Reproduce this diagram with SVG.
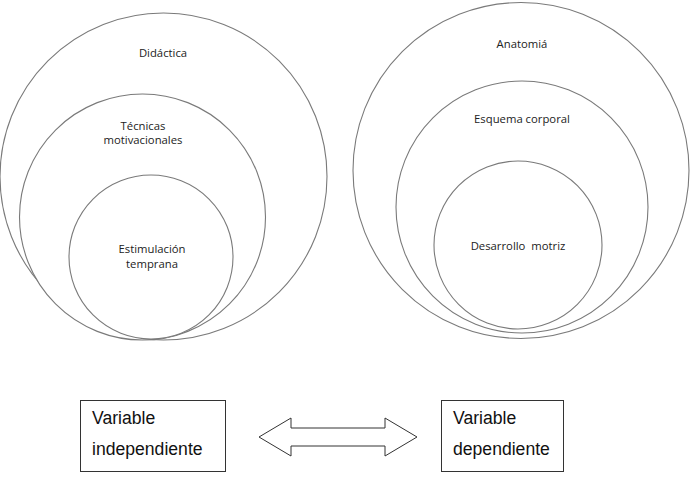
<svg xmlns="http://www.w3.org/2000/svg" width="692" height="490" viewBox="0 0 692 490">
<style>
.c{fill:#fff;stroke:#7a7a7a;stroke-width:1.1}
.t{font-family:"Open Sans","Liberation Sans",sans-serif;font-size:11.3px;fill:#222;text-anchor:middle}
.b{fill:#fff;stroke:#333;stroke-width:1}
.v{font-family:"Liberation Sans",Arial,sans-serif;font-size:17.6px;fill:#111}
</style>
<rect width="692" height="490" fill="#fff"/>
<g id="didactica"><circle class="c" cx="163.5" cy="176.5" r="163.5"/><text class="t" x="163" y="57">Didáctica</text></g>
<g id="tecnicas"><circle class="c" cx="142.5" cy="217" r="123"/><text class="t" x="143" y="130">Técnicas</text><text class="t" x="143" y="144">motivacionales</text></g>
<g id="estimulacion"><circle class="c" cx="151" cy="257" r="82"/><text class="t" x="152" y="253">Estimulación</text><text class="t" x="152" y="268">temprana</text></g>
<g id="anatomia"><circle class="c" cx="521" cy="170.5" r="168"/><text class="t" x="522" y="48">Anatomiá</text></g>
<g id="esquema"><circle class="c" cx="522" cy="207" r="126"/><text class="t" x="522" y="123">Esquema corporal</text></g>
<g id="desarrollo"><circle class="c" cx="518" cy="245" r="84"/><text class="t" x="518" y="250" xml:space="preserve">Desarrollo  motriz</text></g>
<g id="var-indep"><rect class="b" x="80.5" y="400.5" width="145" height="71"/><text class="v" x="92" y="424">Variable</text><text class="v" x="92" y="455">independiente</text></g>
<g id="var-dep"><rect class="b" x="441.5" y="400.5" width="122" height="71"/><text class="v" x="453" y="424">Variable</text><text class="v" x="453" y="455">dependiente</text></g>
<g id="connectors"><polygon class="b" points="259,437 291,418 291,428 385,428 385,418 417,437 385,456 385,446 291,446 291,456"/></g>
</svg>
